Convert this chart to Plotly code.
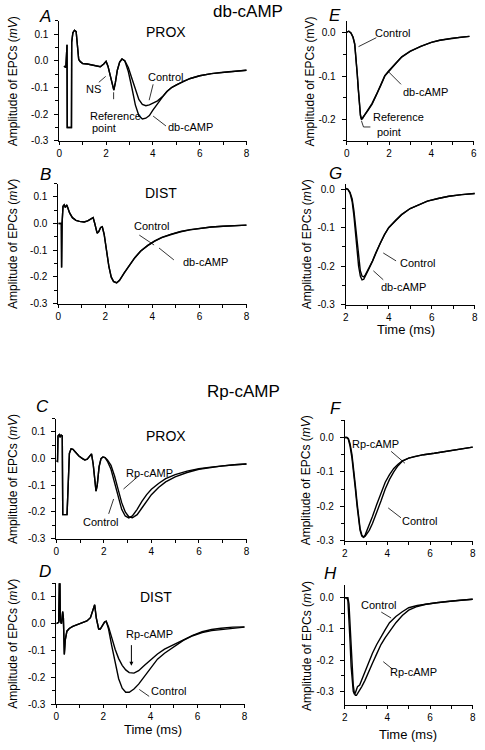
import plotly.graph_objects as go

W, H = 485, 750

# ---------------- data ----------------
# Panel A: db-cAMP, PROX
A_t = [0.2, 0.28, 0.33, 0.34, 0.52, 0.53, 0.58, 0.65, 0.72, 0.78, 0.83, 0.9, 1.0, 1.2, 1.4,
       1.6, 1.75, 1.9, 2.0, 2.08, 2.18, 2.28, 2.33, 2.4, 2.48, 2.58, 2.68, 2.8, 2.95, 3.1,
       3.25, 3.4, 3.55, 3.7, 3.85, 4.0, 4.2, 4.4, 4.6, 4.8, 5.0, 5.3, 5.6, 6.0, 6.5, 7.0, 7.5, 8.0]
A_control = [-0.02, -0.025, 0.06, -0.25, -0.25, 0.07, 0.105, 0.115, 0.11, 0.05, 0.005, -0.003, -0.01, -0.012, -0.015,
             -0.02, -0.022, -0.012, -0.002, -0.02, -0.06, -0.1, -0.11, -0.08, -0.035, -0.005, 0.007, 0.0, -0.025, -0.065,
             -0.11, -0.145, -0.163, -0.168, -0.165, -0.158, -0.15, -0.135, -0.115, -0.1, -0.09, -0.077, -0.066, -0.056, -0.048, -0.043, -0.038, -0.035]
A_db = [-0.02, -0.025, 0.06, -0.25, -0.25, 0.07, 0.105, 0.115, 0.11, 0.05, 0.005, -0.003, -0.01, -0.012, -0.015,
        -0.02, -0.022, -0.012, -0.002, -0.02, -0.06, -0.1, -0.11, -0.08, -0.035, -0.005, 0.007, 0.0, -0.04, -0.1,
        -0.165, -0.205, -0.218, -0.215, -0.205, -0.185, -0.16, -0.137, -0.115, -0.1, -0.09, -0.077, -0.066, -0.056, -0.048, -0.043, -0.038, -0.035]

# Panel B: db-cAMP, DIST
B_t = [0.0, 0.13, 0.14, 0.16, 0.2, 0.25, 0.3, 0.36, 0.4, 0.48, 0.6, 0.75, 0.9, 1.1, 1.25, 1.38, 1.48,
       1.55, 1.65, 1.72, 1.8, 1.87, 1.95, 2.05, 2.15, 2.25, 2.35, 2.48, 2.6, 2.8, 3.0, 3.25, 3.5,
       3.8, 4.1, 4.4, 4.8, 5.2, 5.6, 6.0, 6.5, 7.0, 7.5, 8.0]
B_control = [0.0, 0.0, -0.165, 0.0, 0.065, 0.07, 0.06, 0.07, 0.06, 0.04, 0.022, 0.012, 0.008, 0.006, 0.01, 0.016, 0.022,
             0.0, -0.036, -0.03, -0.015, -0.012, -0.04, -0.1, -0.16, -0.2, -0.217, -0.222, -0.213, -0.185, -0.158, -0.128, -0.103,
             -0.082, -0.065, -0.052, -0.04, -0.03, -0.023, -0.018, -0.013, -0.01, -0.008, -0.006]
B_db = [0.0, 0.0, -0.165, 0.0, 0.065, 0.07, 0.06, 0.07, 0.06, 0.04, 0.022, 0.012, 0.008, 0.006, 0.01, 0.016, 0.022,
        0.0, -0.036, -0.03, -0.015, -0.012, -0.042, -0.102, -0.162, -0.202, -0.218, -0.223, -0.214, -0.186, -0.159, -0.129, -0.104,
        -0.083, -0.066, -0.053, -0.041, -0.031, -0.024, -0.018, -0.013, -0.01, -0.008, -0.006]

# Panel C: Rp-cAMP, PROX
C_t = [0.0, 0.05, 0.07, 0.12, 0.16, 0.2, 0.25, 0.27, 0.45, 0.5, 0.55, 0.62, 0.7, 0.8, 0.95, 1.1, 1.2,
       1.3, 1.4, 1.48, 1.55, 1.62, 1.67, 1.72, 1.8, 1.88, 1.96, 2.05, 2.15, 2.3, 2.45, 2.6, 2.75,
       2.9, 3.05, 3.2, 3.4, 3.6, 3.8, 4.0, 4.3, 4.6, 5.0, 5.5, 6.0, 6.5, 7.0, 7.5, 8.0]
C_control = [-0.008, -0.01, 0.085, 0.09, 0.08, 0.088, 0.085, -0.21, -0.21, -0.05, 0.02, 0.037, 0.035, 0.025, 0.01, 0.0, -0.005,
             -0.002, 0.01, 0.018, -0.02, -0.09, -0.122, -0.1, -0.03, 0.0, 0.006, 0.004, -0.01, -0.04, -0.09, -0.145, -0.19,
             -0.215, -0.222, -0.215, -0.19, -0.16, -0.135, -0.115, -0.093, -0.075, -0.06, -0.047, -0.038, -0.032, -0.027, -0.023, -0.02]
C_rp = [-0.008, -0.01, 0.085, 0.09, 0.08, 0.088, 0.085, -0.21, -0.21, -0.05, 0.02, 0.037, 0.035, 0.025, 0.01, 0.0, -0.005,
        -0.002, 0.01, 0.018, -0.02, -0.09, -0.122, -0.1, -0.03, 0.0, 0.006, 0.004, -0.005, -0.025, -0.065, -0.115, -0.165,
        -0.2, -0.218, -0.222, -0.21, -0.185, -0.158, -0.135, -0.108, -0.087, -0.068, -0.052, -0.04, -0.033, -0.027, -0.023, -0.02]

# Panel D: Rp-cAMP, DIST
D_t = [0.0, 0.1, 0.13, 0.15, 0.17, 0.22, 0.27, 0.3, 0.34, 0.38, 0.45, 0.55, 0.7, 0.9, 1.1, 1.3, 1.45,
       1.55, 1.63, 1.7, 1.8, 1.87, 1.95, 2.05, 2.12, 2.22, 2.35, 2.5, 2.65, 2.8, 2.95, 3.1, 3.3,
       3.5, 3.75, 4.0, 4.3, 4.6, 5.0, 5.4, 5.8, 6.2, 6.6, 7.0, 7.5, 8.0]
D_control = [0.0, 0.005, 0.16, 0.16, 0.01, 0.0, 0.045, 0.02, -0.115, -0.06, -0.028, -0.018, -0.01, -0.003, 0.004, 0.01, 0.022,
             0.045, 0.07, 0.02, -0.02, -0.02, -0.01, 0.006, 0.009, -0.02, -0.08, -0.15, -0.205, -0.24, -0.255, -0.255, -0.243,
             -0.225, -0.195, -0.165, -0.132, -0.11, -0.085, -0.062, -0.045, -0.033, -0.026, -0.022, -0.017, -0.013]
D_rp = [0.0, 0.005, 0.16, 0.16, 0.01, 0.0, 0.045, 0.02, -0.115, -0.06, -0.028, -0.018, -0.01, -0.003, 0.004, 0.01, 0.022,
        0.045, 0.07, 0.02, -0.02, -0.02, -0.01, 0.006, 0.009, -0.012, -0.05, -0.095, -0.13, -0.155, -0.172, -0.182, -0.184,
        -0.175, -0.155, -0.135, -0.113, -0.095, -0.077, -0.06, -0.044, -0.03, -0.022, -0.017, -0.013, -0.012]

# Panel E: db-cAMP, normalised PROX
E_t = [0.0, 0.1, 0.2, 0.3, 0.38, 0.45, 0.5, 0.55, 0.6, 0.65, 0.7, 0.75, 0.85, 1.0, 1.2, 1.4, 1.6,
       1.8, 2.0, 2.3, 2.6, 3.0, 3.5, 4.0, 4.4, 5.0, 5.4, 5.8]
E_control = [0.002, 0.004, 0.0, -0.01, -0.025, -0.06, -0.095, -0.13, -0.165, -0.19, -0.2, -0.197, -0.19, -0.18, -0.165, -0.145, -0.123,
             -0.1, -0.088, -0.072, -0.056, -0.043, -0.031, -0.022, -0.017, -0.012, -0.01, -0.008]
E_db = [0.002, 0.004, 0.0, -0.01, -0.027, -0.062, -0.097, -0.132, -0.167, -0.192, -0.2, -0.198, -0.19, -0.179, -0.163, -0.143, -0.121,
        -0.099, -0.087, -0.071, -0.055, -0.042, -0.031, -0.022, -0.017, -0.012, -0.01, -0.008]

# Panel G: db-cAMP, normalised DIST
G_t = [2.0, 2.1, 2.2, 2.3, 2.38, 2.45, 2.52, 2.6, 2.68, 2.76, 2.84, 2.92, 3.0, 3.1, 3.25, 3.4, 3.6,
       3.8, 4.0, 4.3, 4.6, 5.0, 5.4, 5.8, 6.3, 6.8, 7.4, 8.0]
G_control = [0.002, 0.0, -0.008, -0.025, -0.055, -0.095, -0.14, -0.185, -0.212, -0.226, -0.228, -0.222, -0.214, -0.205, -0.186, -0.165, -0.14,
             -0.118, -0.1, -0.082, -0.066, -0.05, -0.04, -0.031, -0.024, -0.018, -0.014, -0.011]
G_db = [0.002, 0.0, -0.01, -0.032, -0.068, -0.115, -0.16, -0.2, -0.226, -0.236, -0.234, -0.226, -0.216, -0.205, -0.187, -0.166, -0.141,
        -0.119, -0.1, -0.082, -0.066, -0.05, -0.04, -0.031, -0.024, -0.018, -0.014, -0.011]

# Panel F: Rp-cAMP, normalised PROX
F_t = [2.0, 2.1, 2.17, 2.25, 2.34, 2.42, 2.5, 2.58, 2.65, 2.72, 2.8, 2.88, 2.96, 3.05, 3.15, 3.3, 3.5,
       3.7, 3.9, 4.1, 4.3, 4.5, 4.7, 5.0, 5.3, 5.7, 6.2, 6.7, 7.2, 7.7, 8.0]
F_rp = [0.0, 0.0, -0.005, -0.025, -0.06, -0.1, -0.15, -0.2, -0.24, -0.27, -0.287, -0.29, -0.283, -0.27, -0.255, -0.23, -0.195,
        -0.16, -0.13, -0.108, -0.09, -0.078, -0.068, -0.06, -0.055, -0.05, -0.046, -0.041, -0.036, -0.031, -0.028]
F_control = [0.0, 0.0, -0.003, -0.018, -0.05, -0.09, -0.14, -0.19, -0.232, -0.265, -0.283, -0.29, -0.287, -0.28, -0.27, -0.25, -0.22,
             -0.185, -0.15, -0.122, -0.1, -0.082, -0.069, -0.06, -0.055, -0.05, -0.046, -0.041, -0.036, -0.031, -0.028]

# Panel H: Rp-cAMP, normalised DIST
H_t = [2.0, 2.1, 2.15, 2.2, 2.25, 2.3, 2.35, 2.4, 2.45, 2.5, 2.55, 2.6, 2.7, 2.8, 2.95, 3.1, 3.3,
       3.5, 3.7, 3.9, 4.1, 4.4, 4.7, 5.0, 5.4, 5.8, 6.3, 6.8, 7.4, 8.0]
H_control = [0.0, 0.0, -0.01, -0.06, -0.14, -0.22, -0.27, -0.3, -0.308, -0.305, -0.295, -0.285, -0.28, -0.262, -0.235, -0.208, -0.178,
             -0.15, -0.124, -0.102, -0.08, -0.06, -0.045, -0.032, -0.025, -0.02, -0.016, -0.012, -0.008, -0.005]
H_rp = [0.0, 0.0, 0.0, -0.02, -0.08, -0.16, -0.23, -0.28, -0.305, -0.313, -0.313, -0.308, -0.298, -0.285, -0.265, -0.24, -0.21,
        -0.18, -0.15, -0.128, -0.108, -0.08, -0.057, -0.04, -0.028, -0.021, -0.016, -0.012, -0.008, -0.005]

# tick labels
Y_TICKS_WIDE = [0.1, 0.0, -0.1, -0.2, -0.3]
Y_TEXT_WIDE = ["0.1", "0.0", "-0.1", "-0.2", "-0.3"]
Y_TICKS_E = [0.0, -0.1, -0.2]
Y_TEXT_E = ["0.0", "-0.1", "-0.2"]
Y_TICKS_N = [0.0, -0.1, -0.2, -0.3]
Y_TEXT_N = ["0.0", "-0.1", "-0.2", "-0.3"]
X_TICKS_08 = [0, 2, 4, 6, 8]
X_TICKS_06 = [0, 2, 4, 6]
X_TICKS_28 = [2, 4, 6, 8]

# ---------------- layout helpers ----------------
FONT = "Arial, Liberation Sans, sans-serif"

def px(x):
    return x / W

def py(y):
    return 1 - y / H

# panel: (traces, pixel box [x0, x1, ytop, ybottom], xrange, yrange, xticks, yticks, ytext)
panels = [
    ([(A_t, A_control), (A_t, A_db)], [57, 247, 21, 142], [0, 8.02], [-0.3, 0.15], X_TICKS_08, Y_TICKS_WIDE, Y_TEXT_WIDE),
    ([(B_t, B_control), (B_t, B_db)], [56, 247, 185, 306], [0, 8.02], [-0.3, 0.15], X_TICKS_08, Y_TICKS_WIDE, Y_TEXT_WIDE),
    ([(C_t, C_control), (C_t, C_rp)], [54, 247, 422, 543], [0, 8.02], [-0.3, 0.15], X_TICKS_08, Y_TICKS_WIDE, Y_TEXT_WIDE),
    ([(D_t, D_control), (D_t, D_rp)], [54, 245, 588, 710], [0, 8.02], [-0.3, 0.15], X_TICKS_08, Y_TICKS_WIDE, Y_TEXT_WIDE),
    ([(E_t, E_control), (E_t, E_db)], [348, 477, 21, 142], [0, 6.02], [-0.25, 0.028], X_TICKS_06, Y_TICKS_E, Y_TEXT_E),
    ([(G_t, G_control), (G_t, G_db)], [347, 478, 185, 307], [2, 8.02], [-0.3, 0.015], X_TICKS_28, Y_TICKS_N, Y_TEXT_N),
    ([(F_t, F_control), (F_t, F_rp)], [346, 476, 423, 545], [2, 8.02], [-0.3, 0.052], X_TICKS_28, Y_TICKS_N, Y_TEXT_N),
    ([(H_t, H_control), (H_t, H_rp)], [346, 476, 590, 711], [2, 8.02], [-0.345, 0.04], X_TICKS_28, Y_TICKS_N, Y_TEXT_N),
]

fig = go.Figure()
layout_axes = {}
for i, (traces, box, xr, yr, xt, yt, ytxt) in enumerate(panels, start=1):
    sfx = "" if i == 1 else str(i)
    for (t, v) in traces:
        fig.add_trace(go.Scatter(x=t, y=v, mode="lines", xaxis="x" + sfx, yaxis="y" + sfx,
                                 line=dict(color="black", width=1.4), hoverinfo="skip"))
    x0, x1, yt0, yb = box
    common = dict(showline=True, linecolor="black", linewidth=1, showgrid=False, zeroline=False,
                  ticks="outside", tickwidth=1, tickcolor="black", ticklabeloverflow="allow",
                  tickfont=dict(family=FONT, size=10, color="black"))
    layout_axes["xaxis" + sfx] = dict(domain=[px(x0), px(x1)], anchor="y" + sfx, range=xr, ticklen=3,
                                      tickmode="array", tickvals=xt, ticktext=[str(v) for v in xt],
                                      minor=dict(ticks="outside", ticklen=3, dtick=1, tick0=0, tickcolor="black", showgrid=False),
                                      **common)
    layout_axes["yaxis" + sfx] = dict(domain=[py(yb), py(yt0)], anchor="x" + sfx, range=yr, ticklen=4,
                                      tickmode="array", tickvals=yt, ticktext=ytxt, ticklabelstandoff=4,
                                      minor=dict(ticks="outside", ticklen=3, dtick=0.05, tick0=0, tickcolor="black", showgrid=False),
                                      **common)

fig.update_layout(width=W, height=H, margin=dict(l=0, r=0, t=0, b=0),
                  paper_bgcolor="white", plot_bgcolor="white", showlegend=False, **layout_axes)

ann = []

def text(x, y, s, size=11, italic=False, angle=0, xanchor="center"):
    ann.append(dict(x=px(x), y=py(y), xref="paper", yref="paper", text=("<i>%s</i>" % s) if italic else s,
                    showarrow=False, textangle=angle, xanchor=xanchor, yanchor="middle",
                    font=dict(family=FONT, size=size, color="black")))

# headings
text(248, 12, "db-cAMP", 17)
text(244, 395, "Rp-cAMP", 17)
# panel letters
for letter, (lx, ly) in {"A": (43, 17), "B": (43, 176), "C": (40, 410), "D": (43, 576),
                         "E": (336, 16), "G": (337, 175), "F": (337, 412), "H": (332, 578)}.items():
    text(lx, ly, letter, 17, italic=True)
# y-axis titles
for (yx, yy) in [(10, 82), (10, 246), (10, 483), (10, 649), (308, 246), (307, 484), (308, 651)]:
    text(yx, yy, "Amplitude of EPCs (<i>mV</i>)", 12, angle=-90)
text(311, 82, "Amplitude of EPCs (mV)", 12, angle=-90)
# x-axis titles
text(152, 735, "Time (ms)", 13)
text(410, 740, "Time (ms)", 13)
text(408, 332, "Time (ms)", 13)
# panel labels
text(165, 32, "PROX", 14)
text(160, 195, "DIST", 14)
text(165, 440, "PROX", 14)
text(155, 602, "DIST", 14)
# A
text(165, 78, "Control")
text(92, 90, "NS")
text(86, 117, "Reference", xanchor="left")
text(88, 129, "point", xanchor="left")
text(190, 128, "db-cAMP")
# B
text(150, 228, "Control")
text(205, 264, "db-cAMP")
# E
text(394, 33, "Control")
text(428, 93, "db-cAMP")
text(373, 118, "Reference", xanchor="left")
text(377, 133, "point", xanchor="left")
# G
text(420, 265, "Control")
text(406, 289, "db-cAMP")
# C
text(148, 477, "Rp-cAMP")
text(99, 526, "Control")
# D
text(148, 639, "Rp-cAMP")
text(168, 697, "Control")
# F
text(377, 448, "Rp-cAMP")
text(422, 525, "Control")
# H
text(380, 610, "Control")
text(416, 677, "Rp-cAMP")

# arrow in D
ann.append(dict(x=px(130), y=py(671), xref="paper", yref="paper", ax=0, ay=-22, text="",
                showarrow=True, arrowhead=2, arrowsize=0.8, arrowwidth=1, arrowcolor="black"))

fig.update_layout(annotations=ann)

# leader lines (pixel positions)
leaders = [
    (152, 85, 148, 101), (97, 83, 104, 77), (112, 93, 112, 100), (152, 117, 165, 127),
    (138, 237, 153, 247), (158, 250, 173, 262),
    (360, 47, 378, 38), (390, 72, 403, 85), (363, 122, 365, 128), (365, 128, 372, 128),
    (385, 255, 398, 263), (375, 273, 385, 282),
    (137, 480, 122, 493), (107, 518, 112, 503),
    (138, 695, 148, 702),
    (393, 455, 407, 467), (390, 512, 403, 522),
    (383, 617, 393, 623), (385, 667, 395, 675),
]
for (x0, y0, x1, y1) in leaders:
    fig.add_shape(type="line", xref="paper", yref="paper", x0=px(x0), y0=py(y0), x1=px(x1), y1=py(y1),
                  line=dict(color="black", width=0.8))

# remove the browser's default 8px body margin so the figure fills the window exactly
fig.write_html("out.html", config={"displayModeBar": False},
               post_script="document.body.style.margin='0';document.body.style.overflow='hidden';")
